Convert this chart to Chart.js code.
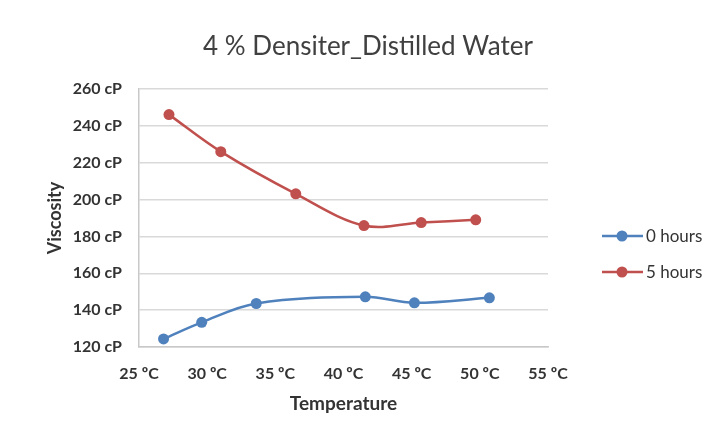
<!DOCTYPE html>
<html>
<head>
<meta charset="utf-8">
<script src="https://cdn.jsdelivr.net/npm/chart.js@4"></script>
<style>
  html, body { margin: 0; padding: 0; background: #fff; }
  #wrap { width: 712px; height: 429px; }
</style>
</head>
<body>
<div id="wrap"><canvas id="myChart" width="712" height="429"></canvas></div>
<script>
// Datos
const chartTitle = '4 % Densiter_Distilled Water';
const seriesNames = ['0 hours', '5 hours'];
const temp0h = [26.8, 29.6, 33.6, 41.6, 45.2, 50.7];
const visc0h = [124.4, 133.4, 143.6, 147.2, 144.0, 146.7];
const temp5h = [27.2, 31.0, 36.5, 41.5, 45.7, 49.7];
const visc5h = [246.1, 226.0, 203.1, 185.9, 187.5, 189.0];
const xTicks = [25, 30, 35, 40, 45, 50, 55];
const yTicks = [120, 140, 160, 180, 200, 220, 240, 260];

const font = "Lato, 'Open Sans', sans-serif";
const toPoints = (xs, ys) => xs.map((x, i) => ({ x: x, y: ys[i] }));

// título y leyenda dibujados a mano, como en Excel
const extras = {
    id: 'extras',
    afterDraw(chart) {
        const ctx = chart.ctx;
        ctx.save();
        ctx.fillStyle = '#404040';
        ctx.font = '26px ' + font;
        ctx.textAlign = 'center';
        ctx.textBaseline = 'middle';
        ctx.fillText(chartTitle, 368, 47);
        ctx.restore();

        const x0 = chart.chartArea.right + 54;
        chart.data.datasets.forEach((ds, i) => {
            const y = 236 + i * 36;
            ctx.save();
            ctx.strokeStyle = ds.borderColor;
            ctx.lineWidth = 2.5;
            ctx.beginPath();
            ctx.moveTo(x0, y);
            ctx.lineTo(x0 + 41, y);
            ctx.stroke();
            ctx.fillStyle = ds.borderColor;
            ctx.beginPath();
            ctx.arc(x0 + 20, y, 5.5, 0, Math.PI * 2);
            ctx.fill();
            ctx.fillStyle = '#333';
            ctx.font = '17px ' + font;
            ctx.textBaseline = 'middle';
            ctx.fillText(ds.label, x0 + 44, y + 1);
            ctx.restore();
        });
    }
};

new Chart(document.getElementById('myChart'), {
    type: 'scatter',
    data: {
        datasets: [
            {
                label: seriesNames[0],
                data: toPoints(temp0h, visc0h),
                borderColor: '#4F81BD',
                backgroundColor: '#4F81BD',
                showLine: true,
                tension: 0.35,
                borderWidth: 2.5,
                pointRadius: 5.5,
                pointBorderWidth: 0
            },
            {
                label: seriesNames[1],
                data: toPoints(temp5h, visc5h),
                borderColor: '#C0504D',
                backgroundColor: '#C0504D',
                showLine: true,
                tension: 0.35,
                borderWidth: 2.5,
                pointRadius: 5.5,
                pointBorderWidth: 0
            }
        ]
    },
    options: {
        responsive: false,
        animation: false,
        layout: { padding: { left: 44, right: 164, top: 89, bottom: 10 } },
        plugins: {
            legend: { display: false },
            tooltip: { enabled: false },
            title: { display: false }
        },
        scales: {
            x: {
                type: 'linear',
                min: xTicks[0],
                max: xTicks[xTicks.length - 1],
                afterBuildTicks: (s) => { s.ticks = xTicks.map(v => ({ value: v })); },
                afterFit: (s) => { s.height = 72; },
                ticks: {
                    color: '#333',
                    padding: 17,
                    maxRotation: 0,
                    font: { size: 16, family: font, weight: 'bold' },
                    callback: (v) => v + ' ºC'
                },
                grid: { display: false, drawTicks: false },
                border: { display: true, color: '#c8c8c8', width: 1.5 },
                title: {
                    display: true,
                    text: 'Temperature',
                    color: '#333',
                    font: { size: 19, family: font, weight: 'bold' },
                    padding: { top: 6 }
                }
            },
            y: {
                min: yTicks[0],
                max: yTicks[yTicks.length - 1],
                afterBuildTicks: (s) => { s.ticks = yTicks.map(v => ({ value: v })); },
                afterFit: (s) => { s.width = 95; },
                ticks: {
                    color: '#333',
                    padding: 17,
                    font: { size: 16, family: font, weight: 'bold' },
                    callback: (v) => v + ' cP'
                },
                grid: { color: '#d9d9d9', lineWidth: 1.5, drawTicks: false },
                border: { display: true, color: '#c8c8c8', width: 1.5 },
                title: {
                    display: true,
                    text: 'Viscosity',
                    color: '#333',
                    font: { size: 18, family: font, weight: 'bold' },
                    padding: 0
                }
            }
        }
    },
    plugins: [extras]
});
</script>
</body>
</html>
